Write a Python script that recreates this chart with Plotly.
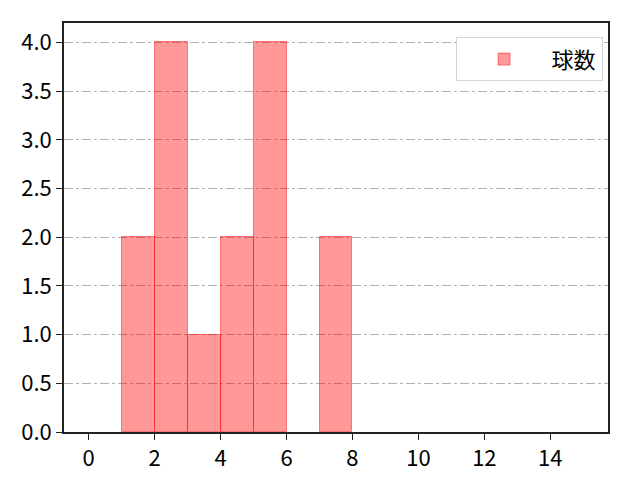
import plotly.graph_objects as go

# histogram bins (left edges) and counts
bin_left = [1, 2, 3, 4, 5, 6, 7]
counts = [2, 4, 1, 2, 4, 0, 2]
bin_width = 1
series_name = '球数'

x_ticks = [0, 2, 4, 6, 8, 10, 12, 14]
y_ticks = [0.0, 0.5, 1.0, 1.5, 2.0, 2.5, 3.0, 3.5, 4.0]

centers = [b + bin_width / 2 for b in bin_left]
# empty bins get no outline (like matplotlib)
edge_w = [1 if c > 0 else 0 for c in counts]

fig = go.Figure()
fig.add_trace(go.Bar(
    x=centers, y=counts, width=bin_width, name=series_name,
    marker=dict(color='rgba(255,0,0,0.4)',
                line=dict(color='rgba(255,0,0,0.45)', width=edge_w)),
    showlegend=True,
))

font = dict(family='Noto Sans CJK JP', size=22, color='black')

# page body has an 8px margin, so margins are shifted accordingly
fig.update_layout(
    width=640, height=480,
    margin=dict(l=56, r=40, t=15, b=56),
    plot_bgcolor='white', paper_bgcolor='white',
    font=font,
    bargap=0,
    showlegend=True,
    legend=dict(x=0.99, y=0.965, xanchor='right', yanchor='top',
                bgcolor='white', bordercolor='#d6d6d6', borderwidth=1,
                font=dict(family='Noto Sans CJK JP', size=22),
                itemwidth=85),
)
fig.update_xaxes(
    range=[-0.75, 15.75], tickvals=x_ticks,
    showline=True, linecolor='#222', linewidth=1.5, mirror=True,
    ticks='outside', ticklen=6, tickcolor='#222', tickwidth=1.3,
    showgrid=False, zeroline=False,
)
fig.update_yaxes(
    range=[0, 4.2], tickvals=y_ticks, ticktext=[f'{v:.1f}' for v in y_ticks],
    showline=True, linecolor='#222', linewidth=1.5, mirror=True,
    ticks='outside', ticklen=6, tickcolor='#222', tickwidth=1.3,
    showgrid=True, gridcolor='#b0b0b0', griddash='dashdot', gridwidth=1,
    zeroline=False, layer='above traces',
)

fig.write_html('out.html')
